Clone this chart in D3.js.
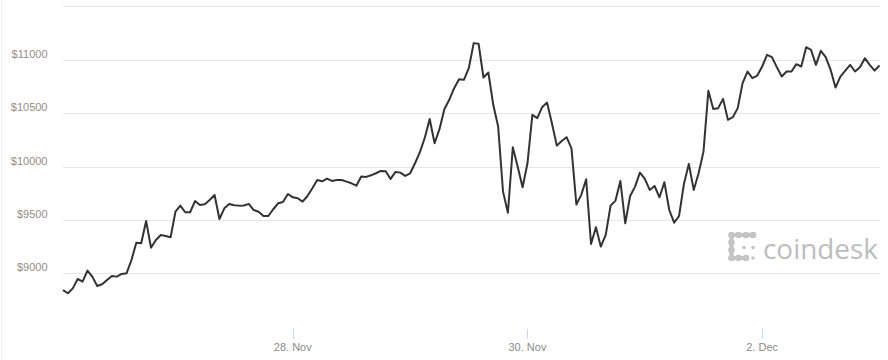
<!DOCTYPE html>
<html>
<head>
<meta charset="utf-8">
<script src="https://cdn.jsdelivr.net/npm/d3@7"></script>
<style>
  html, body { margin: 0; padding: 0; background: #fff; }
  svg { display: block; }
</style>
</head>
<body>
<svg id="chart" width="888" height="360"></svg>
<script>
// Hourly BTC price (USD), first point 26 Nov 01:00
const startTime = "2017-11-26T01:00:00";
const prices = [
  8843, 8813, 8859, 8947, 8922, 9025, 8969, 8881, 8897, 8937,
  8975, 8969, 8994, 9000, 9125, 9287, 9281, 9490, 9240, 9312,
  9359, 9350, 9337, 9577, 9634, 9572, 9572, 9677, 9640, 9647,
  9687, 9734, 9509, 9609, 9650, 9637, 9634, 9635, 9650, 9593,
  9577, 9537, 9537, 9600, 9656, 9668, 9743, 9712, 9703, 9671,
  9724, 9797, 9874, 9862, 9887, 9865, 9874, 9874, 9859, 9843,
  9821, 9906, 9903, 9918, 9937, 9959, 9956, 9884, 9950, 9943,
  9912, 9937, 10031, 10135, 10270, 10445, 10218, 10350, 10537, 10625,
  10734, 10818, 10812, 10921, 11156, 11150, 10834, 10881, 10578, 10375,
  9765, 9568, 10181, 9999, 9806, 10031, 10484, 10453, 10556, 10599,
  10406, 10196, 10240, 10275, 10171, 9645, 9735, 9881, 9275, 9431,
  9250, 9359, 9634, 9681, 9865, 9468, 9724, 9812, 9943, 9884,
  9781, 9818, 9712, 9853, 9593, 9474, 9537, 9837, 10025, 9781,
  9937, 10140, 10709, 10540, 10547, 10634, 10437, 10462, 10547, 10781,
  10890, 10828, 10852, 10937, 11046, 11025, 10931, 10843, 10890, 10890,
  10959, 10937, 11118, 11093, 10952, 11084, 11025, 10906, 10740, 10843,
  10899, 10952, 10890, 10931, 11015, 10952, 10899, 10946
];
const yTicks = [9000, 9500, 10000, 10500, 11000, 11500];
const yLabelTicks = [9000, 9500, 10000, 10500, 11000];
const xTickDates = ["2017-11-28T00:00:00", "2017-11-30T00:00:00", "2017-12-02T00:00:00"];

const t0 = new Date(startTime);
const data = prices.map((v, i) => ({ t: new Date(t0.getTime() + i * 3600e3), v }));

const svg = d3.select("#chart");

const x = d3.scaleTime()
  .domain([data[0].t, data[data.length - 1].t])
  .range([63, 879.5]);
const y = d3.scaleLinear()
  .domain([8500, 11500])
  .range([326.7, 6.4]);

// left border
svg.append("line")
  .attr("x1", 1.5).attr("x2", 1.5).attr("y1", 0).attr("y2", 360)
  .attr("stroke", "#eeeeee").attr("stroke-width", 1);

// gridlines
svg.append("g").selectAll("line").data(yTicks).join("line")
  .attr("x1", 63).attr("x2", 880)
  .attr("y1", d => Math.round(y(d)) + 0.5).attr("y2", d => Math.round(y(d)) + 0.5)
  .attr("stroke", "#e6e6e6").attr("stroke-width", 1);

// y labels
svg.append("g").selectAll("text").data(yLabelTicks).join("text")
  .attr("x", 47.5).attr("y", d => y(d) - 2)
  .attr("text-anchor", "end")
  .attr("font-family", "'Liberation Sans', Arial, sans-serif")
  .attr("font-size", 11)
  .attr("fill", "#958c84")
  .text(d => "$" + d);

// x axis ticks
const fmt = d3.timeFormat("%-d. %b");
const xt = xTickDates.map(s => new Date(s));
const xg = svg.append("g");
xg.selectAll("line").data(xt).join("line")
  .attr("x1", d => Math.round(x(d)) + 0.5).attr("x2", d => Math.round(x(d)) + 0.5)
  .attr("y1", 329).attr("y2", 339)
  .attr("stroke", "#ccd6eb").attr("stroke-width", 1);
xg.selectAll("text").data(xt).join("text")
  .attr("x", d => x(d)).attr("y", 351)
  .attr("text-anchor", "middle")
  .attr("font-family", "'Liberation Sans', Arial, sans-serif")
  .attr("font-size", 11)
  .attr("fill", "#8a8a8a")
  .text(d => fmt(d));

// coindesk logo
const logo = svg.append("g").attr("fill", "#c4c4c4").attr("stroke", "#c4c4c4");
logo.append("path").attr("fill", "none").attr("stroke-width", 4).attr("stroke-linecap", "round")
  .attr("d", "M753,235 L731.5,235 L731.5,258 L746,258");
const dots = [[731.5,235],[738.5,235],[746,235],[753,235],[731.5,242.5],[731.5,250],[731.5,258],[738.5,258],[746,258]];
logo.selectAll("circle.big").data(dots).join("circle").attr("class", "big")
  .attr("cx", d => d[0]).attr("cy", d => d[1]).attr("r", 3.3).attr("stroke", "none");
const small = [[744,247.5],[753,247.5],[753,258]];
logo.selectAll("circle.sm").data(small).join("circle").attr("class", "sm")
  .attr("cx", d => d[0]).attr("cy", d => d[1]).attr("r", 1.8).attr("stroke", "none");
svg.append("text")
  .attr("x", 763).attr("y", 259)
  .attr("font-family", "'Open Sans', 'Noto Sans', sans-serif")
  .attr("font-size", 28)
  .attr("font-weight", 400)
  .attr("fill", "#bdbdbd")
  .attr("textLength", 115)
  .attr("lengthAdjust", "spacingAndGlyphs")
  .text("coindesk");

// price line
const line = d3.line().x(d => x(d.t)).y(d => y(d.v));
svg.append("path")
  .datum(data)
  .attr("fill", "none")
  .attr("stroke", "#333333")
  .attr("stroke-width", 2)
  .attr("stroke-linejoin", "round")
  .attr("d", line);
</script>
</body>
</html>
